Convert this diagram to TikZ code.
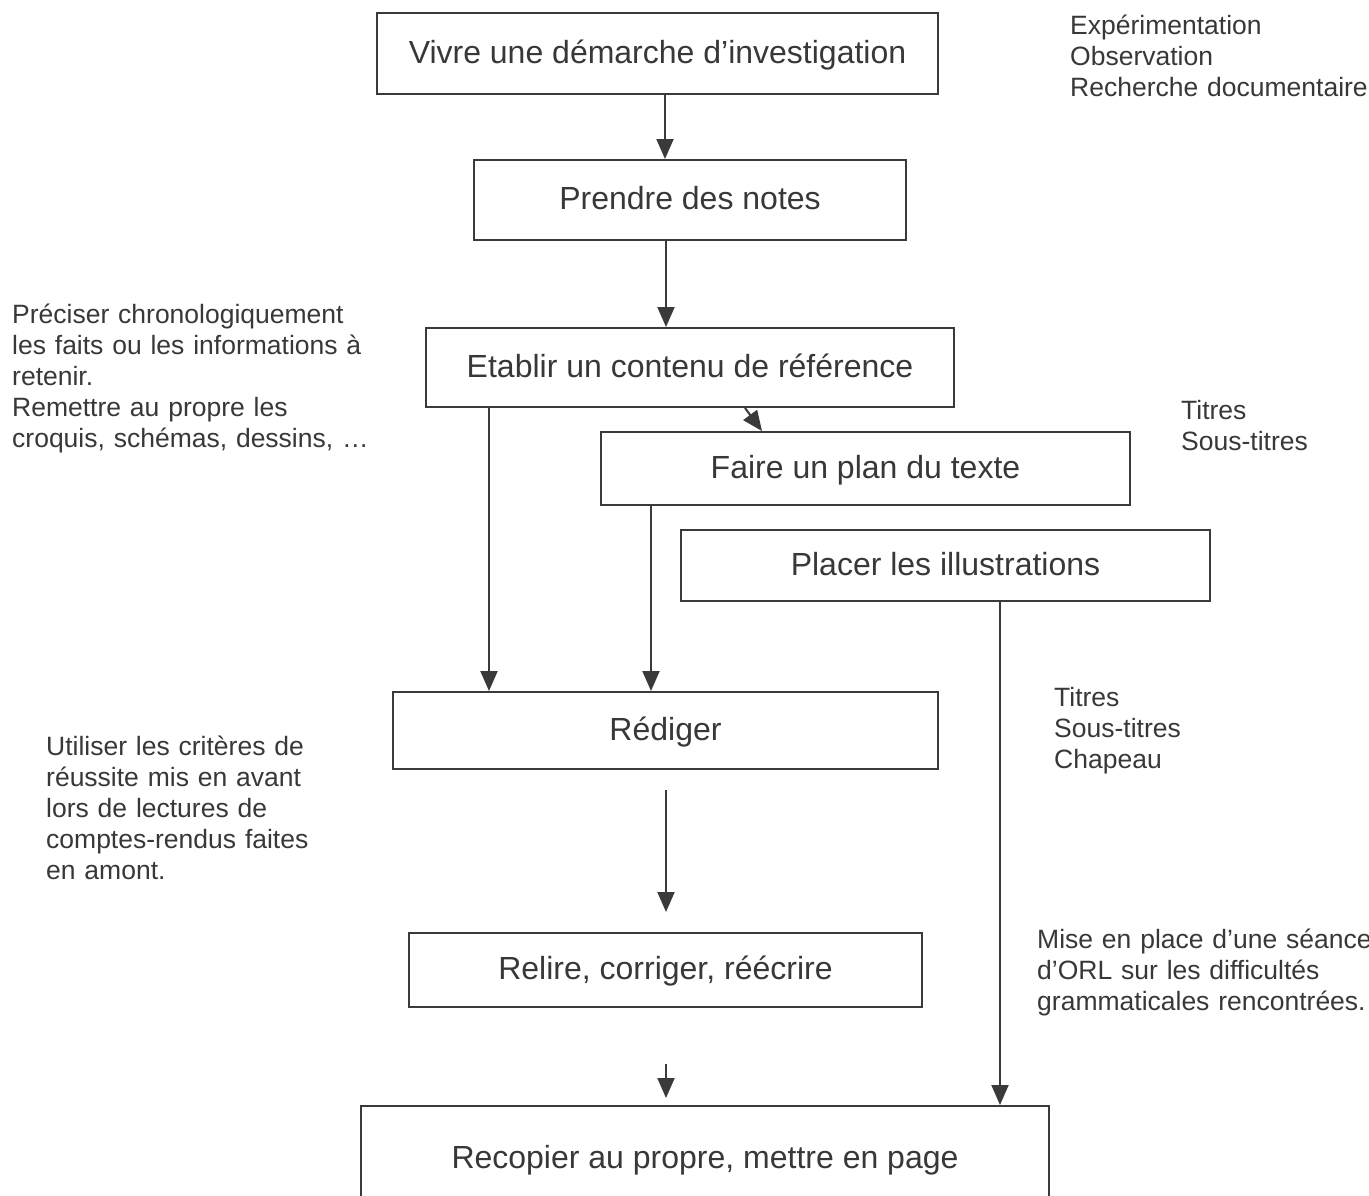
\documentclass[tikz,border=0pt]{standalone}
\usepackage{fontspec}
\setmainfont{Liberation Sans}
\usetikzlibrary{arrows.meta}
\definecolor{linec}{HTML}{3A3A3A}
\definecolor{textc}{HTML}{383838}
\tikzset{
  stepbox/.style={draw=linec, line width=2pt, text=textc, inner sep=0pt,
    font=\fontsize{32}{37}\selectfont, text height=19pt, text depth=0pt,
    anchor=center},
  note/.style={text=textc, inner sep=0pt, anchor=base west, align=left,
    text width=420pt, font=\fontsize{26.5}{31}\selectfont},
  arr/.style={draw=linec, line width=2pt, -{Triangle[length=20pt,width=17pt]}},
}
\begin{document}
\begin{tikzpicture}[x=1pt,y=-1pt]
\useasboundingbox (0,0) rectangle (1369,1195);
\fill[white] (0,0) rectangle (1369,1195);
% boxes
\node[stepbox, minimum width=561pt, minimum height=81pt] (b1) at (657.5,53.5) {Vivre une démarche d’investigation};
\node[stepbox, minimum width=432pt, minimum height=80pt] (b2) at (690,200) {Prendre des notes};
\node[stepbox, minimum width=528pt, minimum height=79pt] (b3) at (690,367.5) {Etablir un contenu de référence};
\node[stepbox, minimum width=529pt, minimum height=73pt] (b4) at (865.5,468.5) {Faire un plan du texte};
\node[stepbox, minimum width=529pt, minimum height=71pt] (b5) at (945.5,565.5) {Placer les illustrations};
\node[stepbox, minimum width=545pt, minimum height=77pt] (b6) at (665.5,730.5) {Rédiger};
\node[stepbox, minimum width=513pt, minimum height=74pt] (b7) at (665.5,970) {Relire, corriger, réécrire};
\begin{scope}
\clip (0,0) rectangle (1369,1195);
\node[stepbox, minimum width=688pt, minimum height=106pt] (b8) at (705,1159) {Recopier au propre, mettre en page};
\end{scope}
% free arrow ends
\coordinate (f1s) at (666,790);
\coordinate (f1e) at (666,912);
\coordinate (f2s) at (666,1064);
\coordinate (f2e) at (666,1098);
% connectors
\draw[arr] (b1.south -| 665,0) -- (b2.north -| 665,0);
\draw[arr] (b2.south -| 666,0) -- (b3.north -| 666,0);
\draw[arr] (b3.south -| 745,0) -- (b4.north -| 762,0);
\draw[arr] (b3.south -| 489,0) -- (b6.north -| 489,0);
\draw[arr] (b4.south -| 651,0) -- (b6.north -| 651,0);
\draw[arr] (b5.south -| 1000,0) -- (b8.north -| 1000,0);
\draw[arr] (f1s) -- (f1e);
\draw[arr] (f2s) -- (f2e);
% side notes
\node[note] (t1) at (1070,34) {Expérimentation\\Observation\\Recherche documentaire};
\node[note] (t2) at (12,323) {Préciser chronologiquement\\les faits ou les informations à\\retenir.\\Remettre au propre les\\croquis, schémas, dessins, …};
\node[note] (t3) at (1181,419) {Titres\\Sous-titres};
\node[note] (t4) at (1054,706) {Titres\\Sous-titres\\Chapeau};
\node[note] (t5) at (46,755) {Utiliser les critères de\\réussite mis en avant\\lors de lectures de\\comptes-rendus faites\\en amont.};
\node[note] (t6) at (1037,948) {Mise en place d’une séance\\d’ORL sur les difficultés\\grammaticales rencontrées.};
\end{tikzpicture}
\end{document}
